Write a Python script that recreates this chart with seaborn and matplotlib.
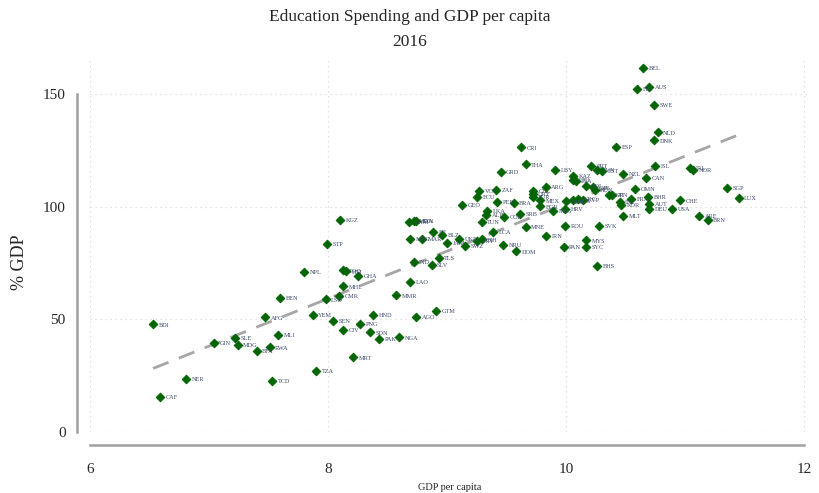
import matplotlib
matplotlib.use("Agg")
import matplotlib.pyplot as plt
import seaborn as sns
import pandas as pd


# ----------------------------------------
# data
# ----------------------------------------
codes = [
    "BEL", "FIN", "AUS", "SWE", "NLD", "DNK", "ESP", "ISL", "IRL", "NOR",
    "CAN", "NZL", "OMN", "SGP", "LUX", "CHE", "USA", "ARE", "BRN", "BHR",
    "AUT", "DEU", "MLT", "SVK", "FRA", "ITA", "KOR", "JPN", "ISR", "POL",
    "CZE", "HUN", "PRT", "SVN", "EST", "KAZ", "LTU", "LVA", "LBY", "CRI",
    "THA", "GRD", "ARG", "CHL", "URY", "TUR", "MEX", "BGR", "MUS", "HRV",
    "RUS", "BLR", "GRC", "CYP", "BRA", "PER", "ZAF", "VCT", "ECU", "GEO",
    "LKA", "ALB", "COL", "SRB", "TUN", "MNE", "IRN", "LCA", "ROU", "NRU",
    "DOM", "MYS", "PAN", "SYC", "BHS", "ARM", "MDA", "BTN", "MNG", "MAR",
    "FJI", "BLZ", "JAM", "UKR", "SWZ", "PRY", "BIH", "IND", "TLS", "SLV",
    "LAO", "MMR", "GTM", "AGO", "HND", "PNG", "SDN", "PAK", "NGA", "KGZ",
    "STP", "NPL", "TGO", "HTI", "GHA", "MHL", "CMR", "LSO", "BEN", "AFG",
    "YEM", "SEN", "CIV", "BDI", "MLI", "SLE", "GIN", "MDG", "RWA", "BFA",
    "MRT", "TZA", "NER", "TCD", "CAF",
]
gdp_pc = [
    10.65, 10.60, 10.70, 10.74, 10.77, 10.74, 10.42, 10.75, 11.04, 11.07,
    10.67, 10.48, 10.58, 11.35, 11.45, 10.96, 10.89, 11.12, 11.19, 10.69,
    10.70, 10.70, 10.48, 10.28, 10.55, 10.45, 10.46, 10.39, 10.36, 10.17,
    10.23, 10.24, 10.21, 10.26, 10.30, 10.06, 10.06, 10.08, 9.91, 9.62,
    9.66, 9.45, 9.83, 9.72, 9.72, 9.72, 9.78, 9.78, 9.89, 9.99,
    10.00, 10.06, 10.10, 10.14, 9.56, 9.42, 9.41, 9.27, 9.25, 9.13,
    9.34, 9.33, 9.48, 9.61, 9.29, 9.66, 9.83, 9.39, 9.99, 9.47,
    9.58, 10.17, 9.98, 10.17, 10.26, 8.68, 8.72, 8.74, 8.69, 8.79,
    8.88, 8.96, 9.00, 9.10, 9.15, 9.25, 9.29, 8.72, 8.93, 8.87,
    8.69, 8.57, 8.91, 8.74, 8.38, 8.27, 8.35, 8.43, 8.60, 8.10,
    7.99, 7.80, 8.13, 8.15, 8.25, 8.13, 8.09, 7.98, 7.60, 7.47,
    7.87, 8.04, 8.13, 6.53, 7.58, 7.22, 7.04, 7.24, 7.51, 7.40,
    8.21, 7.90, 6.81, 7.53, 6.59,
]
edu_pct_gdp = [
    161.4, 152.3, 153.2, 145.1, 132.9, 129.3, 126.3, 117.9, 117.1, 116.4,
    112.7, 114.5, 108.0, 108.3, 103.9, 102.7, 99.0, 95.7, 94.1, 104.1,
    101.1, 99.0, 96.0, 91.4, 103.5, 101.9, 100.8, 105.3, 105.2, 109.3,
    108.5, 107.4, 118.1, 116.2, 115.9, 113.5, 111.8, 111.5, 116.2, 126.2,
    118.7, 115.3, 108.7, 106.9, 105.6, 104.4, 102.7, 100.1, 97.9, 99.0,
    102.3, 102.7, 103.4, 103.0, 101.6, 102.2, 107.4, 106.9, 104.1, 100.9,
    97.9, 96.2, 95.3, 96.7, 93.1, 90.9, 87.0, 88.8, 91.4, 83.1,
    80.1, 85.0, 82.0, 82.0, 73.6, 93.1, 93.8, 93.5, 85.8, 85.5,
    88.6, 87.3, 83.9, 85.7, 82.6, 84.6, 85.4, 75.4, 77.3, 74.2,
    66.5, 60.6, 53.7, 51.0, 52.1, 47.8, 44.2, 41.2, 42.0, 94.1,
    83.3, 70.9, 71.7, 71.2, 69.2, 64.6, 60.3, 58.8, 59.3, 50.8,
    51.9, 49.1, 45.4, 47.7, 43.2, 41.7, 39.5, 38.5, 37.5, 36.0,
    33.1, 27.0, 23.5, 22.7, 15.4,
]

x_ticks = [6, 8, 10, 12]
y_ticks = [0, 50, 100, 150]

df = pd.DataFrame({"code": codes, "gdp": gdp_pc, "edu": edu_pct_gdp})

# ----------------------------------------
# plot
# ----------------------------------------
sns.set_style("white")
plt.rcParams["font.family"] = ["Liberation Serif", "DejaVu Serif"]

fig = plt.figure(figsize=(8.19, 4.93), dpi=100)
ax = fig.add_axes([90 / 819, 61 / 493, 720 / 819, 372 / 493])

ax.grid(True, color="#d9d9d9", linestyle=(0, (1, 3)), linewidth=0.9)
ax.set_axisbelow(True)

sns.regplot(data=df, x="gdp", y="edu", scatter=False, ci=None, ax=ax,
            line_kws=dict(color="#a6a6a6", linewidth=2, linestyle=(0, (6, 4))))
sns.scatterplot(data=df, x="gdp", y="edu", marker="D", s=20,
                color="#006400", edgecolor="#006400", linewidth=0.6, ax=ax,
                zorder=3)

for code, gx, ey in zip(codes, gdp_pc, edu_pct_gdp):
    ax.annotate(code, (gx, ey), xytext=(4, -0.5), textcoords="offset points",
                fontsize=4.5, color="#3d4a6b", va="center", ha="left")

ax.set_xlim(6, 12.05)
ax.set_ylim(0, 165)
ax.set_xticks(x_ticks)
ax.set_yticks(y_ticks)
ax.tick_params(axis="both", labelsize=11, length=5, width=1.2,
               color="#a0a0a0", direction="out", pad=3)
ax.tick_params(axis="x", pad=8)
ax.set_xlabel("")
ax.set_ylabel("")

for side in ["top", "right"]:
    ax.spines[side].set_visible(False)
ax.spines["left"].set_position(("outward", 9.5))
ax.spines["bottom"].set_position(("outward", 9.5))
ax.spines["left"].set_bounds(0, 150)
ax.spines["bottom"].set_bounds(6, 12)
for side in ["left", "bottom"]:
    ax.spines[side].set_color("#a0a0a0")
    ax.spines[side].set_linewidth(1.8)

fig.text(0.5, 1 - 17 / 493, "Education Spending and GDP per capita",
         ha="center", va="center", fontsize=12.5)
fig.text(0.5, 1 - 42 / 493, "2016", ha="center", va="center", fontsize=12.5)
fig.text(20 / 819, 1 - 262 / 493, "% GDP", rotation=90, ha="center",
         va="center", fontsize=13)
fig.text(450 / 819, 1 - 487 / 493, "GDP per capita", ha="center",
         va="center", fontsize=7.5)

plt.savefig("out.png", dpi=100)
